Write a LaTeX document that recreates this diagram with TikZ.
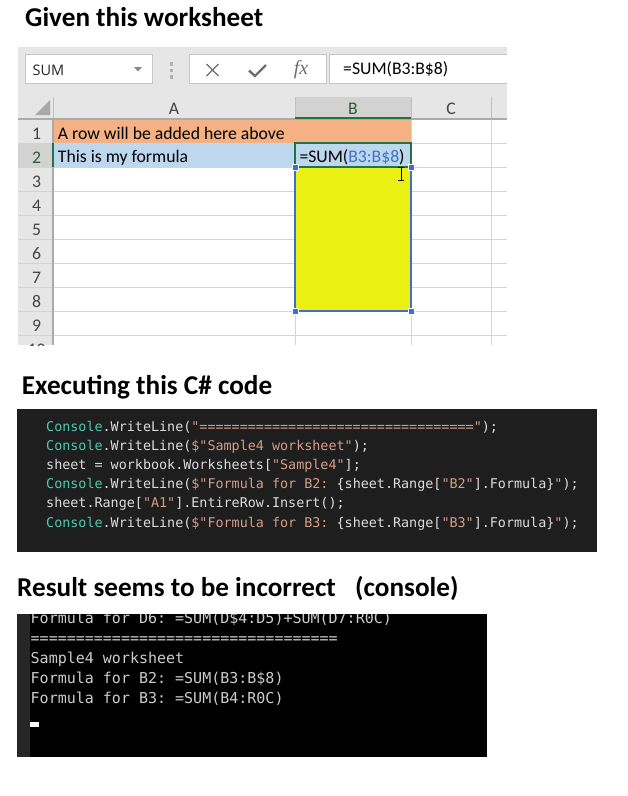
\documentclass[tikz,border=0pt]{standalone}
\usepackage{fontspec}
\setmainfont{Carlito}
\newfontfamily\codefont{DejaVu Sans Mono}
\newfontfamily\uifont{Open Sans}
\newfontfamily\fxfont{Liberation Serif}
\frenchspacing
\definecolor{xlGray}{HTML}{E6E6E6}
\definecolor{xlHdrSel}{HTML}{D2D2D2}
\definecolor{xlGrid}{HTML}{D4D4D4}
\definecolor{xlHdrLine}{HTML}{ABABAB}
\definecolor{xlSep}{HTML}{C0C0C0}
\definecolor{xlBox}{HTML}{C6C6C6}
\definecolor{xlIcon}{HTML}{6E6E6E}
\definecolor{xlGreen}{HTML}{217346}
\definecolor{xlBlue}{HTML}{3C6FD1}
\definecolor{xlRef}{HTML}{4472C4}
\definecolor{xlOrange}{HTML}{F4B183}
\definecolor{xlLight}{HTML}{BDD7EE}
\definecolor{xlYellow}{HTML}{EBF013}
\definecolor{hdrText}{HTML}{444444}
\definecolor{hdrSelText}{HTML}{2B5B3C}
\definecolor{codeBg}{HTML}{1E1E1E}
\definecolor{cTeal}{HTML}{4EC9B0}
\definecolor{cStr}{HTML}{D69D85}
\definecolor{cWhite}{HTML}{DCDCDC}
\definecolor{conText}{HTML}{CCCCCC}
\definecolor{conStrip}{HTML}{262626}
\newcommand\csT[1]{\textcolor{cTeal}{#1}}
\newcommand\csS[1]{\textcolor{cStr}{#1}}
\begin{document}
\begin{tikzpicture}[x=1pt,y=-1pt,
  title/.style={anchor=base west,inner sep=0pt,font=\fontsize{27.2}{30}\selectfont\bfseries},
  cell/.style={anchor=base west,inner sep=0pt,font=\fontsize{17.7}{20}\selectfont},
  hdr/.style={anchor=base,inner sep=0pt,font=\fontsize{17.7}{20}\selectfont,text=hdrText},
  code/.style={anchor=base west,inner sep=0pt,font=\codefont\fontsize{13.4}{16}\selectfont,text=cWhite},
  con/.style={anchor=base west,inner sep=0pt,font=\codefont\fontsize{15}{18}\selectfont,text=conText},
  grid/.style={draw=xlGrid,line width=1pt},
  uibox/.style={fill=white,draw=xlBox,line width=1pt},
  handle/.style={fill=xlBlue,draw=white,line width=0.6pt}
]
\useasboundingbox[fill=white] (0,0) rectangle (628,796);

% ---------- titles ----------
\node[title] (t1) at (25,26.7) {Given this worksheet};
\node[title] (t2) at (21.7,394) {Executing this C\# code};
\node[title] (t3) at (17,596.7) {Result seems to be incorrect};
\node[title] (t3b) at (355,596.7) {(console)};

% ---------- Excel: backgrounds ----------
\fill[xlGray] (18,47) rectangle (507,119);
\fill[xlGray] (18,119) rectangle (53,345);
\fill[white] (53,119) rectangle (507,345);

% formula bar
\draw[uibox] (25,54) rectangle (152,83);
\fill[xlIcon!80] (134,67) -- (142,67) -- (138,71.5) -- cycle;
\foreach \yy in {64,70.5,77} \fill[xlBox!90!black] (169.5,\yy-1.6) rectangle (172.5,\yy+1.6);
\draw[uibox] (189,54) rectangle (326,83);
\fill[white] (329,54) rectangle (507,83);
\draw[xlBox,line width=1pt] (507,54) -- (329,54) -- (329,83) -- (507,83);
\draw[xlIcon,line width=1.4pt] (206.5,64) -- (218.5,76) (218.5,64) -- (206.5,76);
\draw[xlIcon,line width=2.4pt] (249,70.5) -- (255,76) -- (266,65);
\node[anchor=center,inner sep=0pt,text=xlIcon,font=\fxfont\itshape\fontsize{20}{20}\selectfont] (fx) at (301,69.5) {fx};
\node[anchor=base west,inner sep=0pt,font=\uifont\fontsize{14.5}{16}\selectfont,text=black!85] (nb) at (32.5,75) {SUM};
\node[cell] (fb) at (343,74.5) {=SUM(B3:B\$8)};

% ---------- gridlines ----------
\foreach \k in {1,...,9} {
  \draw[grid] (53,{119+24*\k}) -- (507,{119+24*\k});
  \draw[grid] (18,{119+24*\k}) -- (53,{119+24*\k});
}
\foreach \xx in {295,411,491} \draw[grid] (\xx,119) -- (\xx,345);

% ---------- fills ----------
\fill[xlOrange] (53,119) rectangle (411,143);
\fill[xlLight] (53,143) rectangle (411,167);
\fill[xlYellow] (295,167) rectangle (411,311);

% ---------- headers ----------
\fill[xlHdrSel] (295,97) rectangle (411,119);
\fill[xlHdrSel] (18,143) rectangle (53,167);
\foreach \xx in {53,295,411,491} \draw[xlSep,line width=1pt] (\xx,97) -- (\xx,119);
\fill[xlBox!85!black] (50,100) -- (50,115) -- (35,115) -- cycle;
\draw[xlHdrLine,line width=1.2pt] (18,119) -- (507,119);
\draw[xlHdrLine,line width=1.2pt] (53,119) -- (53,345);
\draw[xlGreen,line width=2pt] (295,118) -- (411,118);
\draw[xlGreen,line width=2pt] (53,143) -- (53,167);

\node[hdr] (hA) at (174,114) {A};
\node[hdr,text=hdrSelText] (hB) at (353,114) {B};
\node[hdr] (hC) at (451,114) {C};
\foreach \r in {1,3,4,5,6,7,8,9} \node[hdr] (rn\r) at (36.5,{119+24*\r-4}) {\r};
\node[hdr,text=hdrSelText] (rn2) at (36.5,163) {2};
\begin{scope}
  \clip (18,335) rectangle (53,345);
  \node[hdr] (rn10) at (36.5,355) {10};
\end{scope}

% ---------- selection ----------
\draw[xlBlue,line width=2pt] (295,167) rectangle (411,311);
\draw[xlGreen,line width=2pt] (295,143) rectangle (411,167);
\foreach \xx/\yy in {295/167,411/167,295/311,411/311}
  \draw[handle] (\xx-2.8,\yy-2.8) rectangle (\xx+2.8,\yy+2.8);

% ---------- cell text ----------
\node[cell] (a1) at (57.7,139) {A row will be added here above};
\node[cell] (a2) at (57.7,162.5) {This is my formula};
\node[cell] (b2) at (299.3,162.5) {=SUM(\textcolor{xlRef}{B3:B\$8})};

% I-beam cursor
\draw[black,line width=0.9pt] (401,167.5) -- (401,180) (398,167.5) -- (404,167.5) (398,180) -- (404,180);

% ---------- code box ----------
\fill[codeBg] (17,409) rectangle (597,552);
\node[code] (c1) at (46,431) {\csT{Console}.WriteLine(\csS{"=================================="});};
\node[code] (c2) at (46,450.2) {\csT{Console}.WriteLine(\csS{\$"Sample4 worksheet"});};
\node[code] (c3) at (46,469.4) {sheet = workbook.Worksheets[\csS{"Sample4"}];};
\node[code] (c4) at (46,488.6) {\csT{Console}.WriteLine(\csS{\$"Formula for B2: }\{sheet.Range[\csS{"B2"}].Formula\}\csS{"});};
\node[code] (c5) at (46,507.8) {sheet.Range[\csS{"A1"}].EntireRow.Insert();};
\node[code] (c6) at (46,527) {\csT{Console}.WriteLine(\csS{\$"Formula for B3: }\{sheet.Range[\csS{"B3"}].Formula\}\csS{"});};

% ---------- console ----------
\fill[black] (17,614) rectangle (487,757);
\fill[conStrip] (17,614) rectangle (30,757);
\begin{scope}
  \clip (30,614) rectangle (487,757);
  \node[con] (k0) at (30.5,623.3) {Formula for D6: =SUM(D\$4:D5)+SUM(D7:R0C)};
\end{scope}
\node[con] (k1) at (30.5,643.3) {==================================};
\node[con] (k2) at (30.5,663.3) {Sample4 worksheet};
\node[con] (k3) at (30.5,683.3) {Formula for B2: =SUM(B3:B\$8)};
\node[con] (k4) at (30.5,703.3) {Formula for B3: =SUM(B4:R0C)};
\fill[white] (30,722) rectangle (39,727);
\end{tikzpicture}
\end{document}
